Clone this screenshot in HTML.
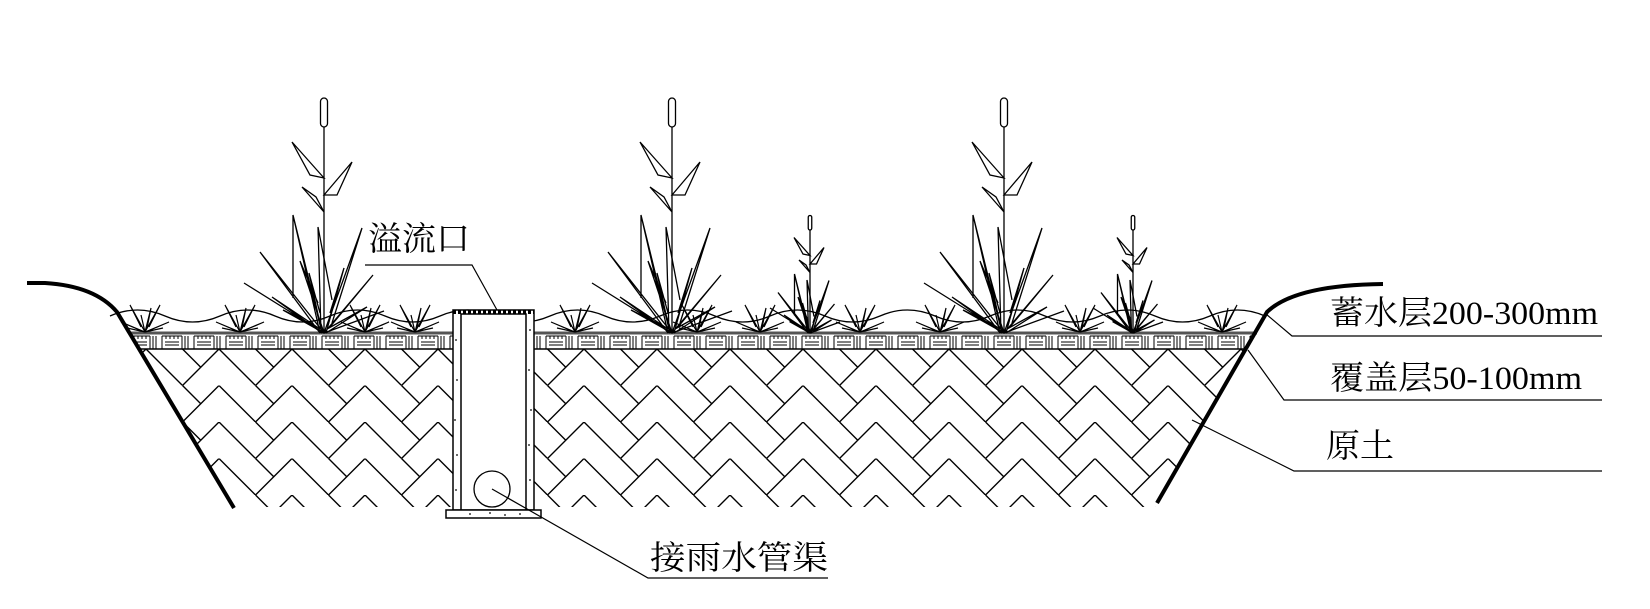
<!DOCTYPE html>
<html><head><meta charset="utf-8"><style>html,body{margin:0;padding:0;background:#fff}svg{display:block}</style></head>
<body>
<svg width="1650" height="609" viewBox="0 0 1650 609" xmlns="http://www.w3.org/2000/svg">
<defs>
<pattern id="hb" x="0" y="349" width="73" height="36.5" patternUnits="userSpaceOnUse">
<path d="M0 0 L36.5 36.5 L73 0 M36.5 0 L55 18.5" fill="none" stroke="#000" stroke-width="1.4"/>
</pattern>
<pattern id="cv" x="0" y="333" width="32" height="16" patternUnits="userSpaceOnUse">
<path d="M2 3 V16 M22 3 V16 M2 3 H22 M6 3 V6 M10 3 V6 M14 3 V6 M18 3 V6 M5 9 H19 M5 12 H19 M25 3 V16 M28 3 V16" fill="none" stroke="#000" stroke-width="1"/>
</pattern>
<clipPath id="soilL"><polygon points="140,349 453,349 453,507 233,507"/></clipPath>
<clipPath id="soilR"><polygon points="534,349 1246,349 1155,507 534,507"/></clipPath>
<clipPath id="cvL"><polygon points="130,333 453,333 453,349 140,349"/></clipPath>
<clipPath id="cvR"><polygon points="534,333 1256,333 1246,349 534,349"/></clipPath>
<g id="big" fill="none" stroke="#000" stroke-width="1.3">
<line x1="0" y1="0" x2="0" y2="-206" vector-effect="non-scaling-stroke"/>
<rect x="-3.5" y="-235" width="7" height="29" rx="3.5" vector-effect="non-scaling-stroke"/>
<path vector-effect="non-scaling-stroke" d="M0 -155 L-32 -191 L-14 -158 Z M0 -138 L28 -171 L13 -138 Z M0 -121 L-22 -146 L-8 -136 Z M-4 0 L-64 -81 L0 0 M-4 0 L-31 -118 L-31 -35 M-31 -118 L-2 0 M-3 0 L-6 -106 L8 -33 M0 0 L38 -105 L8 -10 M0 0 L49 -58 L6 -6 M-2 0 L-52 -36 L-4 -4 M2 0 L43 -26 L3 -4 M0 0 L-41 -23 L-1 -3 M-2 0 L-15 -60 L-4 -20 M2 0 L20 -65 L6 -20 M0 0 L-80 -50 M0 0 L60 -22 M0 0 L-24 -72 L-6 -30"/>
</g>
<g id="tuft" fill="none" stroke="#000" stroke-width="1.2">
<path d="M0 0 L-24 -10 L-3 -1 M0 0 L-15 -27 L-4 -5 M0 0 L-4 -17 M0 0 L6 -24 L2 -4 M0 0 L15 -27 L4 -5 M0 0 L24 -10 L3 -1 M0 0 L-18 -4 M0 0 L18 -4"/>
</g>
</defs>
<rect width="1650" height="609" fill="#fff"/>

<rect x="100" y="349" width="1200" height="158" fill="url(#hb)" clip-path="url(#soilL)"/>
<rect x="100" y="349" width="1200" height="158" fill="url(#hb)" clip-path="url(#soilR)"/>

<rect x="100" y="333" width="1200" height="16" fill="url(#cv)" clip-path="url(#cvL)"/>
<rect x="100" y="333" width="1200" height="16" fill="url(#cv)" clip-path="url(#cvR)"/>
<g stroke="#000" fill="none">
<line x1="128" y1="333" x2="453" y2="333" stroke="#555" stroke-width="3"/>
<line x1="534" y1="333" x2="1257" y2="333" stroke="#555" stroke-width="3"/>
<line x1="140" y1="349" x2="453" y2="349" stroke-width="1.5"/>
<line x1="534" y1="349" x2="1246" y2="349" stroke-width="1.5"/>
</g>

<path d="M110 316 q27.5 -12 55 0 t55 0 t55 0 t55 0 t55 0 t55 0 t55 0 t55 0 t55 0 t55 0 t55 0 t55 0 t55 0 t55 0 t55 0 t55 0 t55 0 t55 0 t55 0 t55 0 t55 0" fill="none" stroke="#000" stroke-width="1.3"/>

<use href="#tuft" x="145" y="332"/>
<use href="#tuft" x="240" y="332"/>
<use href="#tuft" x="365" y="332"/>
<use href="#tuft" x="415" y="332"/>
<use href="#tuft" x="575" y="332"/>
<use href="#tuft" x="697" y="332"/>
<use href="#tuft" x="760" y="332"/>
<use href="#tuft" x="860" y="332"/>
<use href="#tuft" x="940" y="332"/>
<use href="#tuft" x="1080" y="332"/>
<use href="#tuft" x="1222" y="332"/>

<use href="#big" x="324" y="333"/>
<use href="#big" x="672" y="333"/>
<use href="#big" x="1004" y="333"/>
<use href="#big" transform="translate(810 333) scale(0.5)"/>
<use href="#big" transform="translate(1133 333) scale(0.5)"/>

<rect x="453" y="310" width="81" height="200" fill="#fff" stroke="#000" stroke-width="1.5"/>
<rect x="461" y="314" width="65" height="196" fill="#fff" stroke="#000" stroke-width="1.5"/>
<line x1="453" y1="312" x2="534" y2="312" stroke="#000" stroke-width="4" stroke-dasharray="3 2"/>
<rect x="446" y="510" width="95" height="8" fill="#fff" stroke="#000" stroke-width="1.5"/>
<g fill="#000">
<circle cx="456" cy="340" r="0.9"/><circle cx="457" cy="380" r="0.9"/><circle cx="455" cy="420" r="0.9"/><circle cx="457" cy="455" r="0.9"/><circle cx="456" cy="490" r="0.9"/>
<circle cx="530" cy="330" r="0.9"/><circle cx="529" cy="370" r="0.9"/><circle cx="531" cy="410" r="0.9"/><circle cx="529" cy="445" r="0.9"/><circle cx="530" cy="480" r="0.9"/>
<circle cx="470" cy="514" r="0.9"/><circle cx="490" cy="513" r="0.9"/><circle cx="505" cy="515" r="0.9"/><circle cx="520" cy="514" r="0.9"/>
</g>
<circle cx="492" cy="489" r="18" fill="none" stroke="#000" stroke-width="1.3"/>

<path d="M27 283 L45 283 Q95 286 117 312 L234 508" fill="none" stroke="#000" stroke-width="4"/>
<path d="M1157 503 L1267 312 Q1295 285 1383 284" fill="none" stroke="#000" stroke-width="4"/>

<g fill="none" stroke="#000" stroke-width="1.2">
<path d="M365 265 H472 L497 310"/>
<path d="M492 489 L648 578 H828"/>
<path d="M1266 314 L1292 336 H1602"/>
<path d="M1248 350 L1284 400 H1602"/>
<path d="M1192 420 L1294 471 H1602"/>
</g>

<g font-family="'Liberation Serif','Noto Serif CJK SC',serif" font-size="33" fill="#000">
<text x="368" y="250" textLength="102" lengthAdjust="spacingAndGlyphs">溢流口</text>
<text x="650" y="569" textLength="178" lengthAdjust="spacingAndGlyphs">接雨水管渠</text>
<text x="1330" y="324" textLength="268" lengthAdjust="spacingAndGlyphs">蓄水层200-300mm</text>
<text x="1330" y="389" textLength="252" lengthAdjust="spacingAndGlyphs">覆盖层50-100mm</text>
<text x="1326" y="457" textLength="68" lengthAdjust="spacingAndGlyphs">原土</text>
</g>
</svg>
</body></html>
